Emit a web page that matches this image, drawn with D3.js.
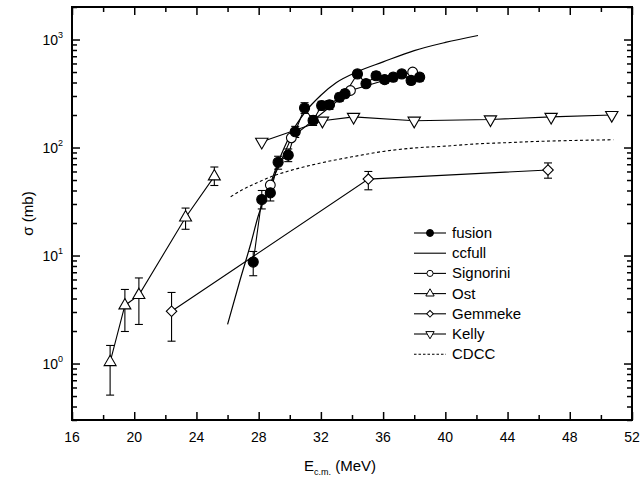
<!DOCTYPE html>
<html><head><meta charset="utf-8">
<script src="https://cdn.jsdelivr.net/npm/d3@7"></script>
<style>body{margin:0;background:#fff}svg{display:block}text{font-family:"Liberation Sans",Arial,Helvetica,sans-serif;fill:#000}</style>
</head><body><svg id="c" width="642" height="484"></svg>
<script>
// ---- data ----
const fusionE  = [27.65, 28.2, 28.75, 29.25, 29.9, 30.35, 30.95, 31.5, 32.05, 32.55, 33.2, 33.55, 34.35, 34.9, 35.55, 36.1, 36.65, 37.2, 37.8, 38.35];
const fusionS  = [8.7, 33, 38, 73, 85, 140, 232, 178, 245, 248, 292, 315, 480, 390, 462, 425, 448, 480, 418, 448];
const fusionLo = [6.5, 27, 32, 63, 74, 124, 207, 160, 222, 225, 268, 290, 445, 360, 425, 392, 412, 445, 385, 412];
const fusionHi = [10.9, 40, 44, 83, 97, 157, 260, 197, 268, 272, 318, 342, 518, 422, 500, 460, 485, 518, 452, 485];
const signE = [28.75, 30.1, 33.9, 37.9];
const signS = [45, 123, 337, 500];
const ccfullE = [26.0, 26.8, 27.5, 28.0, 28.6, 29.3, 30.0, 31.0, 32.0, 33.0, 34.3, 36.0, 38.0, 40.0, 42.1];
const ccfullS = [2.3, 5.9, 13, 24, 40, 76, 128, 214, 305, 400, 500, 620, 790, 940, 1090];
const ostE  = [18.45, 19.4, 20.3, 23.3, 25.15];
const ostS  = [1.03, 3.45, 4.3, 22.5, 54];
const ostLo = [0.51, 1.98, 2.3, 17.5, 44.5];
const ostHi = [1.47, 4.85, 6.2, 27.5, 66];
const gemE  = [22.4, 35.05, 46.6];
const gemS  = [3.05, 51, 62];
const gemLo = [1.61, 40.6, 52];
const gemHi = [4.55, 60, 72];
const kellyE = [28.2, 32.1, 34.1, 38.0, 42.9, 46.8, 50.7];
const kellyS = [113, 177, 192, 177, 182, 192, 200];
const cdccE = [26.2, 27, 28, 29, 30, 32, 34, 36, 38, 40, 42, 44, 46, 48, 50.8];
const cdccS = [35, 41, 48, 55, 61, 72, 82, 92, 99, 103, 108, 111, 114, 116, 118];
const xTicks = [16, 20, 24, 28, 32, 36, 40, 44, 48, 52];
const xMinor = [18, 22, 26, 30, 34, 38, 42, 46, 50];
const yTicks = [1, 10, 100, 1000];
const yExp = ["0", "1", "2", "3"];
const legendLabels = ["fusion", "ccfull", "Signorini", "Ost", "Gemmeke", "Kelly", "CDCC"];

// ---- layout ----
const L = 72, R = 632, T = 7, B = 420;
const svg = d3.select("#c");
const x = d3.scaleLinear().domain([16, 52]).range([L, R]);
const y = d3.scaleLog().domain([0.3, 2000]).range([B, T]);

const zip = (a, b) => a.map((v, i) => [v, b[i]]);
const line = d3.line().x(d => x(d[0])).y(d => y(d[1]));

// minor y ticks
const yMinor = [];
[0.1, 1, 10, 100, 1000].forEach(d => { for (let k = 2; k <= 9; k++) { const v = d * k; if (v >= 0.3 && v <= 2000) yMinor.push(v); } });

// axes (ticks inward)
const g = svg.append("g");
function addAxis(axis, tr) { const a = g.append("g").attr("transform", tr).call(axis); a.select(".domain").remove(); a.selectAll("text").remove(); a.selectAll("line").attr("stroke", "#000").attr("stroke-width", 1.5); }
addAxis(d3.axisBottom(x).tickValues(xTicks).tickSizeInner(-8).tickSizeOuter(0), `translate(0,${B})`);
addAxis(d3.axisBottom(x).tickValues(xMinor).tickSizeInner(-5).tickSizeOuter(0), `translate(0,${B})`);
addAxis(d3.axisTop(x).tickValues(xTicks).tickSizeInner(-8).tickSizeOuter(0), `translate(0,${T})`);
addAxis(d3.axisTop(x).tickValues(xMinor).tickSizeInner(-5).tickSizeOuter(0), `translate(0,${T})`);
addAxis(d3.axisLeft(y).tickValues(yTicks).tickSizeInner(-8).tickSizeOuter(0), `translate(${L},0)`);
addAxis(d3.axisLeft(y).tickValues(yMinor).tickSizeInner(-5).tickSizeOuter(0), `translate(${L},0)`);
addAxis(d3.axisRight(y).tickValues(yTicks).tickSizeInner(-8).tickSizeOuter(0), `translate(${R},0)`);
addAxis(d3.axisRight(y).tickValues(yMinor).tickSizeInner(-5).tickSizeOuter(0), `translate(${R},0)`);

svg.append("rect").attr("x", L).attr("y", T).attr("width", R - L).attr("height", B - T)
  .attr("fill", "none").attr("stroke", "#000").attr("stroke-width", 2);

// tick labels
svg.append("g").selectAll("text").data(xTicks).join("text")
  .attr("x", d => x(d)).attr("y", B + 22).attr("text-anchor", "middle").attr("font-size", 14).text(d => d);
const yl = svg.append("g").selectAll("text").data(yTicks).join("text")
  .attr("x", L - 9).attr("y", d => y(d) + 5).attr("text-anchor", "end").attr("font-size", 14);
yl.append("tspan").text("10");
yl.append("tspan").attr("dy", -7).attr("font-size", 9).text((d, i) => yExp[i]);

// axis titles
const xt = svg.append("text").attr("x", 340).attr("y", 471).attr("text-anchor", "middle").attr("font-size", 15);
xt.append("tspan").text("E");
xt.append("tspan").attr("dy", 4).attr("font-size", 9).text("c.m.");
xt.append("tspan").attr("dy", -4).text(" (MeV)");
svg.append("text").attr("transform", `translate(33,${(T + B) / 2}) rotate(-90)`).attr("text-anchor", "middle").attr("font-size", 15).text("σ (mb)");

// curves
const plot = svg.append("g");
plot.append("path").attr("d", d3.line().x(d => x(d[0])).y(d => y(d[1])).curve(d3.curveMonotoneX)(zip(cdccE, cdccS)))
  .attr("fill", "none").attr("stroke", "#000").attr("stroke-width", 1.1).attr("stroke-dasharray", "3,2.5");
plot.append("path").attr("d", d3.line().x(d => x(d[0])).y(d => y(d[1])).curve(d3.curveMonotoneX)(zip(ccfullE, ccfullS)))
  .attr("fill", "none").attr("stroke", "#000").attr("stroke-width", 1.2);
[[ostE, ostS], [gemE, gemS], [kellyE, kellyS], [signE, signS], [fusionE, fusionS]].forEach(([a, b]) => {
  plot.append("path").attr("d", line(zip(a, b))).attr("fill", "none").attr("stroke", "#000").attr("stroke-width", 1.1);
});

// error bars
function errBars(E, lo, hi) {
  const gg = plot.append("g").attr("stroke", "#000").attr("stroke-width", 1.1);
  E.forEach((e, i) => {
    const xx = x(e);
    gg.append("line").attr("x1", xx).attr("x2", xx).attr("y1", y(lo[i])).attr("y2", y(hi[i]));
    gg.append("line").attr("x1", xx - 4).attr("x2", xx + 4).attr("y1", y(lo[i])).attr("y2", y(lo[i]));
    gg.append("line").attr("x1", xx - 4).attr("x2", xx + 4).attr("y1", y(hi[i])).attr("y2", y(hi[i]));
  });
}
errBars(ostE, ostLo, ostHi);
errBars(gemE, gemLo, gemHi);
errBars(fusionE, fusionLo, fusionHi);

// markers
const sym = {
  circle: d3.symbol().type(d3.symbolCircle),
  tri: d3.symbol().type(d3.symbolTriangle),
  sq: d3.symbol().type(d3.symbolSquare)
};
function markers(E, S, type, size, rot, fill) {
  plot.append("g").selectAll("path").data(zip(E, S)).join("path")
    .attr("transform", d => `translate(${x(d[0])},${y(d[1])}) rotate(${rot})`)
    .attr("d", sym[type].size(size)()).attr("fill", fill).attr("stroke", "#000").attr("stroke-width", 1.1);
}
markers(kellyE, kellyS, "tri", 66, 180, "#fff");
markers(ostE, ostS, "tri", 62, 0, "#fff");
markers(gemE, gemS, "sq", 55, 45, "#fff");
markers(signE, signS, "circle", 75, 0, "#fff");
markers(fusionE, fusionS, "circle", 80, 0, "#000");

// legend
const lg = svg.append("g");
const types = [["circle", "#000", 0, 38], [null], ["circle", "#fff", 0, 30], ["tri", "#fff", 0, 30], ["sq", "#fff", 45, 22], ["tri", "#fff", 180, 30], ["dash"]];
legendLabels.forEach((lab, i) => {
  const yy = 233 + i * 20.2;
  const t = types[i];
  lg.append("line").attr("x1", 414).attr("x2", 446).attr("y1", yy).attr("y2", yy)
    .attr("stroke", "#000").attr("stroke-width", 1.1).attr("stroke-dasharray", t[0] === "dash" ? "2.5,2" : null);
  if (t[0] && t[0] !== "dash") {
    lg.append("path").attr("transform", `translate(430,${yy}) rotate(${t[2]})`)
      .attr("d", sym[t[0]].size(t[3])()).attr("fill", t[1]).attr("stroke", "#000").attr("stroke-width", 1);
  }
  lg.append("text").attr("x", 452).attr("y", yy + 5).attr("font-size", 15).text(lab);
});
</script></body></html>
